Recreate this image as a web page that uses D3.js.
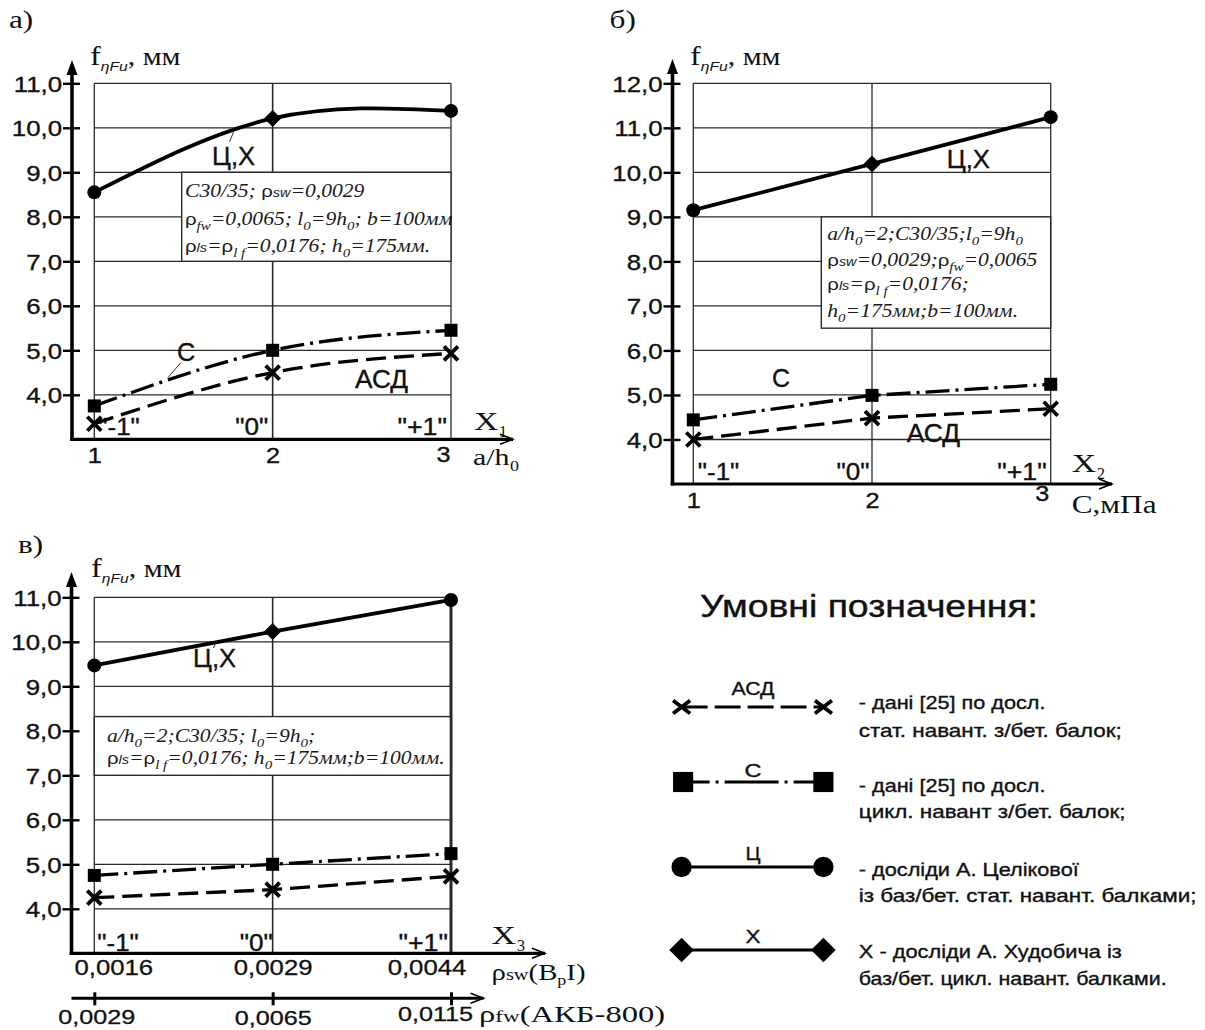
<!DOCTYPE html>
<html><head><meta charset="utf-8">
<script src="https://cdn.jsdelivr.net/npm/d3@7"></script>
<style>body{margin:0;background:#fff} text{white-space:pre}</style>
</head><body>
<svg id="c" width="1205" height="1030" xmlns="http://www.w3.org/2000/svg"></svg>
<script>
// ---------------- DATA ----------------
const X_VALUES = [1, 2, 3];
const LEVEL_LABELS = ['"-1"', '"0"', '"+1"'];
const X_TICK_LABELS = ["1", "2", "3"];
const Y_TICKS_A = [4, 5, 6, 7, 8, 9, 10, 11];
const Y_TICKS_B = [4, 5, 6, 7, 8, 9, 10, 11, 12];
const Y_TICKS_C = [4, 5, 6, 7, 8, 9, 10, 11];
const CX_MARKERS = ["circle", "diamond", "circle"];

const A_CX  = [8.55, 10.21, 10.38];
const A_C   = [3.75, 5.00, 5.45];
const A_ASD = [3.35, 4.50, 4.93];

const B_CX  = [9.15, 10.19, 11.24];
const B_C   = [4.44, 4.99, 5.24];
const B_ASD = [4.00, 4.48, 4.69];

const C_CX  = [9.47, 10.23, 10.94];
const C_C   = [4.75, 5.00, 5.24];
const C_ASD = [4.25, 4.43, 4.73];

const RHO_SW_LABELS = ["0,0016", "0,0029", "0,0044"];
const RHO_FW_LABELS = ["0,0029", "0,0065", "0,0115"];

const LEGEND_KEYS = ["АСД", "С", "Ц", "Х"];
const LEGEND_TEXT = [
  ["- дані [25] по досл.", "стат. навант. з/бет. балок;"],
  ["- дані [25] по досл.", "цикл. навант з/бет. балок;"],
  ["- досліди А. Целікової", "із баз/бет. стат. навант. балками;"],
  ["Х - досліди А. Худобича із", "баз/бет. цикл. навант. балками."]
];

// info box lines: [text, style]
const INFO_A = [
  [["C30/35; ", "i"], ["ρ", "g"], ["sw", "gs"], ["=0,0029", "i"]],
  [["ρ", "g"], ["fw", "sub"], ["=0,0065; ", "i"], ["l", "i"], ["0", "sub"], ["=9h", "i"], ["0", "sub"], ["; b=100мм", "i"]],
  [["ρ", "g"], ["ls", "gs"], ["=", "i"], ["ρ", "g"], ["l f", "sub"], ["=0,0176; h", "i"], ["0", "sub"], ["=175мм.", "i"]]
];
const INFO_B = [
  [["a/h", "i"], ["0", "sub"], ["=2;C30/35;l", "i"], ["0", "sub"], ["=9h", "i"], ["0", "sub"]],
  [["ρ", "g"], ["sw", "gs"], ["=0,0029;", "i"], ["ρ", "g"], ["fw", "sub"], ["=0,0065", "i"]],
  [["ρ", "g"], ["ls", "gs"], ["=", "i"], ["ρ", "g"], ["l f", "sub"], ["=0,0176;", "i"]],
  [["h", "i"], ["0", "sub"], ["=175мм;b=100мм.", "i"]]
];
const INFO_C = [
  [["a/h", "i"], ["0", "sub"], ["=2;C30/35; l", "i"], ["0", "sub"], ["=9h", "i"], ["0", "sub"], [";", "i"]],
  [["ρ", "g"], ["ls", "gs"], ["=", "i"], ["ρ", "g"], ["l f", "sub"], ["=0,0176; h", "i"], ["0", "sub"], ["=175мм;b=100мм.", "i"]]
];

// ---------------- HELPERS ----------------
const SANS = "'Liberation Sans', Arial, sans-serif";
const SERIF = "'Liberation Serif', 'Times New Roman', serif";
const INK = "#111";
const GRID = "#2a2a2a";
const svg = d3.select("#c");
const fmt = v => v.toFixed(1).replace(".", ",");

function T(sel, x, y, str, o) {
  const t = sel.append("text")
    .attr("transform", `translate(${x},${y}) scale(${o.sx || 1},1)`)
    .attr("font-family", o.family || SANS)
    .attr("font-size", o.size)
    .attr("font-style", o.italic ? "italic" : "normal")
    .attr("text-anchor", o.anchor || "start")
    .attr("fill", INK)
    .text(str);
  if (o.bold !== false && (o.family || SANS) === SANS) t.attr("stroke", INK).attr("stroke-width", o.sw || 0.35);
  if (o.len) t.attr("textLength", o.len).attr("lengthAdjust", "spacingAndGlyphs");
  return t;
}

const STY = {
  i:   { f: SERIF, s: 18, it: true, dy: 0 },
  sub: { f: SERIF, s: 12.5, it: true, dy: 5 },
  g:   { f: SANS, s: 17, it: false, dy: 0 },
  gs:  { f: SANS, s: 12, it: true, dy: 0 }
};
function richLine(g, x, y, segs, sx) {
  const t = g.append("text").attr("transform", `translate(${x},${y}) scale(${sx},1)`).attr("fill", "#1a1a1a");
  let shift = 0;
  segs.forEach(([s, k]) => {
    const st = STY[k];
    const ts = t.append("tspan").text(s).attr("font-family", st.f).attr("font-size", st.s)
      .attr("font-style", st.it ? "italic" : "normal");
    const dy = st.dy - shift;
    if (dy) ts.attr("dy", dy);
    shift = st.dy;
  });
}

function marker(g, type, cx, cy, big) {
  const k = big ? 1.45 : 1;
  if (type === "circle") {
    g.append("circle").attr("cx", cx).attr("cy", cy).attr("r", 7 * k).attr("fill", "#000");
  } else if (type === "diamond") {
    const h = 8.5 * k;
    g.append("path").attr("d", `M${cx},${cy - h}L${cx + h},${cy}L${cx},${cy + h}L${cx - h},${cy}Z`).attr("fill", "#000");
  } else if (type === "square") {
    const s = 13 * (big ? 1.55 : 1);
    g.append("rect").attr("x", cx - s / 2).attr("y", cy - s / 2).attr("width", s).attr("height", s).attr("fill", "#000");
  } else if (type === "x") {
    const w = big ? 8.5 : 7, h = big ? 6.5 : 7;
    g.append("path").attr("d", `M${cx - w},${cy - h}L${cx + w},${cy + h}M${cx - w},${cy + h}L${cx + w},${cy - h}`)
      .attr("stroke", "#000").attr("stroke-width", 3.8).attr("fill", "none");
  }
}

function yLabel(g, x, y) {
  const t = g.append("text").attr("transform", `translate(${x},${y}) scale(1.2,1)`).attr("fill", INK);
  t.append("tspan").attr("font-family", SERIF).attr("font-size", 27).text("f");
  t.append("tspan").attr("font-family", SANS).attr("font-style", "italic").attr("font-size", 13).attr("dy", 6).text("ηFu");
  t.append("tspan").attr("font-family", SERIF).attr("font-size", 25).attr("dy", -6).text(", мм");
}

// ---------------- PANELS ----------------
const PANELS = [
  { id: "a", title: "а)", tpos: [9, 28], ylab: [90, 65],
    xr: [94.3, 451], yd: [3, 11], yr: [439.3, 83.3], ticks: Y_TICKS_A,
    ax: 72, arrowTop: 60, arrowRight: 513, vgw: [1.3, 1.6, 1.3],
    box: { x0: 181.7, top: 9, bot: 7 }, info: INFO_A, infoX: 185, infoY: [196.7, 225, 251.7],
    curve: d3.curveNatural,
    series: [A_CX, A_C, A_ASD],
    levelY: -4, levelDX: [4, -4.5, -4],
    xlab: { X: [474, 430], sub: "1", subPos: [499, 437], name: "a/h", namePos: [473, 465], name0: [510, 471] },
    xtickOff: [[0, 23.7], [0, 23.7], [-8, 22.4]],
    labels: [
      { t: "Ц,Х", x: 212, y: 165, len: 43 },
      { t: "С", x: 177, y: 361, len: 18.3 },
      { t: "АСД", x: 355, y: 388, len: 53 }
    ],
    leaders: [[233.5, 132, 229.5, 142], [168, 377.5, 180.5, 363]]
  },
  { id: "b", title: "б)", tpos: [609.6, 28], ylab: [690, 65],
    xr: [693.3, 1050.7], yd: [3, 12], yr: [484, 83.3], ticks: Y_TICKS_B,
    ax: 672.5, arrowTop: 59, arrowRight: 1112, vgw: [1.3, 1.3, 1.3],
    box: { x0: 821.3, top: 9, bot: 6.5 }, info: INFO_B, infoX: 827.3, infoY: [240, 266, 289.5, 317],
    curve: d3.curveLinear,
    series: [B_CX, B_C, B_ASD],
    levelY: -4, levelDX: [4.5, -2.5, -4],
    xlab: { X: [1071.7, 471.5], sub: "2", subPos: [1097, 478.5], cname: "С,мПа", namePos: [1071.7, 513] },
    xtickOff: [[0, 24], [0, 24], [-9, 17]],
    labels: [
      { t: "Ц,Х", x: 946.7, y: 168, len: 43.3 },
      { t: "С", x: 772, y: 387, len: 18 },
      { t: "АСД", x: 906.7, y: 441.5, len: 53.3 }
    ],
    leaders: []
  },
  { id: "c", title: "в)", tpos: [18, 553], ylab: [91, 577],
    xr: [94.3, 451], yd: [3, 11], yr: [953.3, 597.3], ticks: Y_TICKS_C,
    ax: 71.5, arrowTop: 572, arrowRight: 545, vgw: [1.3, 1.6, 2.6],
    box: { x0: null, top: 8.32, bot: 7 }, info: INFO_C, infoX: 107, infoY: [741.7, 764],
    curve: d3.curveLinear,
    series: [C_CX, C_C, C_ASD],
    levelY: -2, levelDX: [3, 0, -3],
    xlab: { X: [491.5, 944], sub: "3", subPos: [517, 951] },
    labels: [
      { t: "Ц,Х", x: 193, y: 667, len: 43 }
    ],
    leaders: [[216.5, 641, 213.5, 648]]
  }
];

const LEVEL_LEN = [41.5, 33, 49.5];

PANELS.forEach(p => {
  const g = svg.append("g").attr("id", "panel-" + p.id);
  const x = d3.scaleLinear().domain([1, 3]).range(p.xr);
  const y = d3.scaleLinear().domain(p.yd).range(p.yr);
  const top = p.yd[1], bot = p.yd[0];

  // horizontal grid lines
  g.append("g").selectAll("line").data(p.ticks).join("line")
    .attr("x1", x(1)).attr("x2", x(3)).attr("y1", d => y(d)).attr("y2", d => y(d))
    .attr("stroke", GRID).attr("stroke-width", 1.3);
  // vertical grid lines
  g.append("g").selectAll("line").data(X_VALUES).join("line")
    .attr("x1", d => x(d)).attr("x2", d => x(d)).attr("y1", y(top)).attr("y2", y(bot))
    .attr("stroke", GRID).attr("stroke-width", (d, i) => p.vgw[i]);

  // info box
  const bx0 = p.box.x0 == null ? x(1) : p.box.x0;
  g.append("rect").attr("x", bx0).attr("y", y(p.box.top))
    .attr("width", x(3) - bx0).attr("height", y(p.box.bot) - y(p.box.top))
    .attr("fill", "#fff").attr("stroke", GRID).attr("stroke-width", 1.4);
  if (p.id === "c") {
    g.append("line").attr("x1", x(3)).attr("x2", x(3)).attr("y1", y(top)).attr("y2", y(bot))
      .attr("stroke", GRID).attr("stroke-width", p.vgw[2]);
  }
  p.info.forEach((ln, i) => richLine(g, p.infoX, p.infoY[i], ln, 1.2));

  // y axis
  const ya = g.append("g").attr("transform", `translate(${p.ax},0)`)
    .call(d3.axisLeft(y).tickValues(p.ticks).tickFormat(fmt).tickSize(9));
  ya.select(".domain").remove();
  ya.selectAll(".tick line").attr("x1", 8).attr("x2", -9).attr("stroke", "#000").attr("stroke-width", 2.4);
  ya.selectAll(".tick text").attr("x", -10 / 1.2).attr("dy", "0.36em")
    .attr("transform", "scale(1.2,1)").attr("font-family", SANS).attr("font-size", 21.5).attr("fill", INK)
    .attr("stroke", INK).attr("stroke-width", 0.35);
  g.append("line").attr("x1", p.ax).attr("x2", p.ax).attr("y1", y(bot) + 1.5).attr("y2", p.arrowTop + 10)
    .attr("stroke", "#000").attr("stroke-width", 3.6);
  g.append("path").attr("d", `M${p.ax},${p.arrowTop}L${p.ax - 5.5},${p.arrowTop + 15}L${p.ax + 5.5},${p.arrowTop + 15}Z`).attr("fill", "#000");

  // x axis
  const xa0 = y(bot);
  g.append("line").attr("x1", p.ax - 1.8).attr("x2", p.arrowRight).attr("y1", xa0).attr("y2", xa0)
    .attr("stroke", "#000").attr("stroke-width", 3.2);
  g.append("path").attr("d", `M${p.arrowRight - 13},${xa0 - 5}L${p.arrowRight},${xa0}L${p.arrowRight - 13},${xa0 + 5}`)
    .attr("fill", "none").attr("stroke", "#000").attr("stroke-width", 1.5);

  if (p.id !== "c") {
    const xb = g.append("g").attr("transform", `translate(0,${xa0})`)
      .call(d3.axisBottom(x).tickValues(X_VALUES).tickFormat((d, i) => X_TICK_LABELS[i]).tickSize(0));
    xb.select(".domain").remove();
    xb.selectAll(".tick text").attr("y", null).attr("dy", null)
      .attr("transform", (d, i) => `translate(${p.xtickOff[i][0]},${p.xtickOff[i][1]}) scale(1.15,1)`)
      .attr("font-family", SANS).attr("font-size", 22).attr("fill", INK)
      .attr("stroke", INK).attr("stroke-width", 0.35);
  }

  // level labels "-1" "0" "+1"
  X_VALUES.forEach((v, i) => {
    const lx = i === 0 ? x(v) + p.levelDX[0] : x(v) + p.levelDX[i] - LEVEL_LEN[i];
    T(g, lx, xa0 + p.levelY, LEVEL_LABELS[i], { size: 23, len: LEVEL_LEN[i] });
  });

  // axis name X_k
  T(g, p.xlab.X[0], p.xlab.X[1], "X", { family: SERIF, size: 25, sx: 1.35 });
  T(g, p.xlab.subPos[0], p.xlab.subPos[1], p.xlab.sub, { family: SERIF, size: 16 });
  if (p.xlab.name) {
    T(g, p.xlab.namePos[0], p.xlab.namePos[1], p.xlab.name, { family: SERIF, size: 23, sx: 1.3 });
    T(g, p.xlab.name0[0], p.xlab.name0[1], "0", { family: SERIF, size: 15, sx: 1.2 });
  }
  if (p.xlab.cname) T(g, p.xlab.namePos[0], p.xlab.namePos[1], p.xlab.cname, { family: SERIF, size: 25, sx: 1.25 });

  // series
  const [cx, cc, casd] = p.series;
  const line = d3.line().x((d, i) => x(X_VALUES[i])).y(d => y(d)).curve(p.curve);
  g.append("path").attr("d", line(casd)).attr("fill", "none").attr("stroke", "#000")
    .attr("stroke-width", 3.3).attr("stroke-dasharray", "20,8");
  g.append("path").attr("d", line(cc)).attr("fill", "none").attr("stroke", "#000")
    .attr("stroke-width", 3.3).attr("stroke-dasharray", "24,6,3,6");
  g.append("path").attr("d", line(cx)).attr("fill", "none").attr("stroke", "#000")
    .attr("stroke-width", 3.8);
  casd.forEach((v, i) => marker(g, "x", x(X_VALUES[i]), y(v)));
  cc.forEach((v, i) => marker(g, "square", x(X_VALUES[i]), y(v)));
  cx.forEach((v, i) => marker(g, CX_MARKERS[i], x(X_VALUES[i]), y(v)));

  // series labels
  p.labels.forEach(l => T(g, l.x, l.y, l.t, { size: 25, len: l.len }));
  p.leaders.forEach(l => g.append("line").attr("x1", l[0]).attr("y1", l[1]).attr("x2", l[2]).attr("y2", l[3])
    .attr("stroke", "#333").attr("stroke-width", 1));

  // panel letter & y title
  T(g, p.tpos[0], p.tpos[1], p.title, { family: SERIF, size: 25, sx: 1.25 });
  yLabel(g, p.ylab[0], p.ylab[1]);

  // secondary axes for panel c
  if (p.id === "c") {
    const xs = g.append("g").attr("transform", `translate(0,${xa0})`)
      .call(d3.axisBottom(x).tickValues(X_VALUES).tickFormat((d, i) => RHO_SW_LABELS[i]).tickSize(0));
    xs.select(".domain").remove();
    const offS = [[19, 21.7], [0, 21.7], [-24.5, 21.7]];
    xs.selectAll(".tick text").attr("y", null).attr("dy", null)
      .attr("transform", (d, i) => `translate(${offS[i][0]},${offS[i][1]}) scale(1.17,1)`)
      .attr("font-family", SANS).attr("font-size", 22).attr("fill", INK)
      .attr("stroke", INK).attr("stroke-width", 0.3);

    const y2 = 998.3;
    const xf = g.append("g").attr("transform", `translate(0,${y2})`)
      .call(d3.axisBottom(x).tickValues(X_VALUES).tickFormat((d, i) => RHO_FW_LABELS[i]).tickSize(6));
    xf.select(".domain").remove();
    xf.selectAll(".tick line").attr("y1", -6).attr("y2", 7).attr("stroke", "#000").attr("stroke-width", 3);
    const offF = [[2, 25.5], [0, 26.5], [-16, 22.5]];
    xf.selectAll(".tick text").attr("y", null).attr("dy", null)
      .attr("transform", (d, i) => `translate(${offF[i][0]},${offF[i][1]}) scale(1.2,1)`)
      .attr("font-family", SANS).attr("font-size", 21).attr("fill", INK)
      .attr("stroke", INK).attr("stroke-width", 0.3);
    g.append("line").attr("x1", p.ax).attr("x2", 483.6).attr("y1", y2).attr("y2", y2)
      .attr("stroke", "#000").attr("stroke-width", 3);
    g.append("path").attr("d", `M${483.6 - 13},${y2 - 5}L483.6,${y2}L${483.6 - 13},${y2 + 5}`)
      .attr("fill", "none").attr("stroke", "#000").attr("stroke-width", 1.5);

    // ρsw(BpI)
    const t1 = g.append("text").attr("transform", `translate(491.5,980) scale(1.2,1)`).attr("fill", INK).attr("font-family", SERIF);
    t1.append("tspan").attr("font-size", 24).text("ρ");
    t1.append("tspan").attr("font-size", 17).text("sw");
    t1.append("tspan").attr("font-size", 24).text("(B");
    t1.append("tspan").attr("font-size", 15).attr("dy", 5).text("p");
    t1.append("tspan").attr("font-size", 24).attr("dy", -5).text("I)");
    // ρfw(АКБ-800)
    const t2 = g.append("text").attr("transform", `translate(479,1022) scale(1.36,1)`).attr("fill", INK).attr("font-family", SERIF);
    t2.append("tspan").attr("font-size", 24).text("ρ");
    t2.append("tspan").attr("font-size", 17).text("fw");
    t2.append("tspan").attr("font-size", 24).text("(АКБ-800)");
  }
});

// ---------------- LEGEND ----------------
const leg = svg.append("g").attr("id", "legend");
T(leg, 700, 617, "Умовні позначення:", { size: 31, len: 338, sw: 0.4 });
const LEG_X0 = 681.6, LEG_X1 = 823.4, LEG_TX = 858.8;
const LEG_ROWS = [
  { y: 707, ly: 695, t: [709, 737], w: [186.6, 263], lw: 43 },
  { y: 782, ly: 777, t: [792, 818], w: [186.6, 266.8], lw: 17 },
  { y: 867, ly: 860, t: [876, 902], w: [220, 337.7], lw: 15 },
  { y: 950, ly: 943, t: [958, 985], w: [263, 307.8], lw: 15 }
];
const LEG_STYLE = [
  { dash: "26,7", mk: "x" },
  { dash: "18,6,3,6,54,6,3,6,60", mk: "square" },
  { dash: null, mk: "circle" },
  { dash: null, mk: "diamond" }
];
LEGEND_KEYS.forEach((k, i) => {
  const r = LEG_ROWS[i], s = LEG_STYLE[i];
  const ln = leg.append("line").attr("x1", LEG_X0 + (i === 1 ? 10 : 0)).attr("x2", LEG_X1).attr("y1", r.y).attr("y2", r.y)
    .attr("stroke", "#000").attr("stroke-width", 3.2);
  if (s.dash) ln.attr("stroke-dasharray", s.dash);
  marker(leg, s.mk, LEG_X0 + (i === 1 ? 1.5 : 0), r.y, true);
  marker(leg, s.mk, LEG_X1, r.y, true);
  T(leg, (LEG_X0 + LEG_X1) / 2 + 0.5 - r.lw / 2, r.ly, k, { size: 19, len: r.lw });
  LEGEND_TEXT[i].forEach((txt, j) => T(leg, LEG_TX, r.t[j], txt, { size: 18.5, len: r.w[j] }));
});
</script>
</body></html>
